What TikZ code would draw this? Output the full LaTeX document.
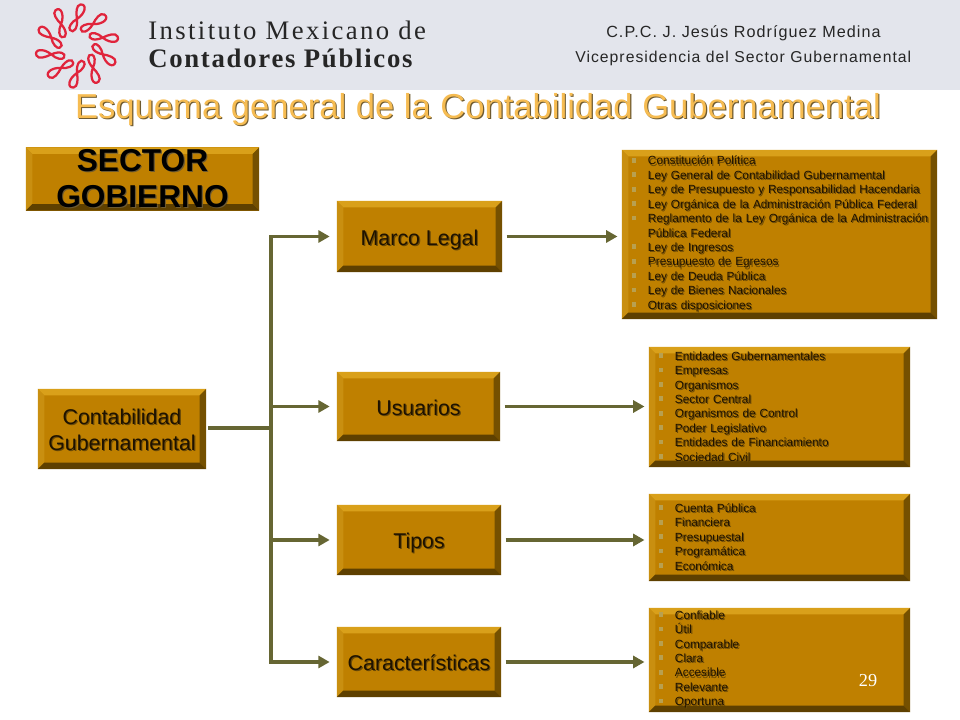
\documentclass[tikz,border=0pt]{standalone}
\usepackage{fontspec}
\setmainfont{Liberation Sans}
\newfontfamily\serifa[LetterSpace=9]{Liberation Serif}
\newfontfamily\serifb[LetterSpace=6.5]{Liberation Serif}
\newfontfamily\numfont{Liberation Serif}
\newfontfamily\cabeza[LetterSpace=6.5]{Liberation Sans}
\usetikzlibrary{arrows.meta}

\definecolor{banda}{HTML}{E3E5EC}
\definecolor{oro}{HTML}{BF8000}
\definecolor{oroalto}{HTML}{D9A01A}
\definecolor{oroizq}{HTML}{C98F10}
\definecolor{oroder}{HTML}{755000}
\definecolor{orobajo}{HTML}{5E4000}
\definecolor{olivo}{HTML}{666633}
\definecolor{titulo}{HTML}{F6BC52}
\definecolor{sombra}{HTML}{6E5A30}
\definecolor{sombrac}{HTML}{6A4A08}
\definecolor{vineta}{HTML}{B8A050}
\definecolor{tinta}{HTML}{1E1200}
\definecolor{rojo}{HTML}{E0243C}

\newcommand{\sombreado}[2]{\leavevmode\rlap{\kern0.8pt\raisebox{-0.8pt}{\textcolor{#1}{#2}}}#2}
\newcommand{\rotulo}[1]{\raisebox{-1.5pt}[0.8em][0.2em]{\sombreado{sombrac}{#1}}}
\newcommand{\ele}[1]{\makebox[0.51cm][l]{\kern3.1pt\textcolor{vineta}{\rule[1.6pt]{3pt}{3.4pt}}}\sombreado{sombrac}{#1}}
\newcommand{\hue}{\hspace*{0.51cm}}

\tikzset{
    bisel/.style={
        fill=oro, inner sep=0pt, align=center,
        path picture={
            \fill[oroalto] (path picture bounding box.north west) -- (path picture bounding box.north east)
                -- ([shift={(-0.16cm,-0.16cm)}]path picture bounding box.north east)
                -- ([shift={(0.16cm,-0.16cm)}]path picture bounding box.north west) -- cycle;
            \fill[oroizq] (path picture bounding box.north west) -- (path picture bounding box.south west)
                -- ([shift={(0.16cm,0.16cm)}]path picture bounding box.south west)
                -- ([shift={(0.16cm,-0.16cm)}]path picture bounding box.north west) -- cycle;
            \fill[oroder] (path picture bounding box.north east) -- (path picture bounding box.south east)
                -- ([shift={(-0.16cm,0.16cm)}]path picture bounding box.south east)
                -- ([shift={(-0.16cm,-0.16cm)}]path picture bounding box.north east) -- cycle;
            \fill[orobajo] (path picture bounding box.south west) -- (path picture bounding box.south east)
                -- ([shift={(-0.16cm,0.16cm)}]path picture bounding box.south east)
                -- ([shift={(0.16cm,0.16cm)}]path picture bounding box.south west) -- cycle;
        }},
    caja/.style={bisel, text=tinta, font=\fontsize{15.2}{18.5}\selectfont},
    lista/.style={bisel, align=left, text=tinta, inner xsep=0.14cm, font=\fontsize{8.4}{10.25}\selectfont},
    flecha/.style={-{Triangle[length=8pt,width=8.5pt]}, olivo, line width=2.8pt},
    linea/.style={olivo, line width=2.8pt}
}

\begin{document}
\begin{tikzpicture}[x=0.025cm, y=-0.025cm]
        \useasboundingbox (0,0) rectangle (960,720);

        % === Encabezado ===
        \fill[banda] (0,0) rectangle (960,90);

        % Logo
        \foreach \a in {0,36,...,324} {
            \draw[rojo, line width=1.6pt, shift={(77,46)}, rotate=\a]
                (0,-27) .. controls (-1,-33) and (-1,-41) .. (3.5,-41.5)
                .. controls (10,-42) and (9,-33) .. (0,-27)
                .. controls (-6,-24) and (-9,-18) .. (-7,-16)
                .. controls (-3.5,-12) and (1,-18) .. (0,-27);
        }

        \node[anchor=west, inner sep=0pt, font=\serifa\fontsize{19}{22}\selectfont, text=black!85] (inst) at (148,30) {Instituto Mexicano de};
        \node[anchor=west, inner sep=0pt, font=\serifb\bfseries\fontsize{19}{22}\selectfont, text=black!85] (cont) at (148,58) {Contadores Públicos};
        \node[anchor=west, inner sep=0pt, font=\cabeza\fontsize{11.5}{13}\selectfont, text=black!85] (cpc) at (606,33) {C.P.C. J. Jesús Rodríguez Medina};
        \node[anchor=west, inner sep=0pt, font=\cabeza\fontsize{11.2}{13}\selectfont, text=black!85] (vice) at (575,58) {Vicepresidencia del Sector Gubernamental};

        % Titulo
        \node[inner sep=0pt, text=titulo, font=\fontsize{24.6}{28}\selectfont] (esquema) at (478,110) {\sombreado{sombra}{Esquema general de la Contabilidad Gubernamental}};

        % === Cajas ===
        \node[caja, minimum width=5.825cm, minimum height=1.575cm, text=black, font=\bfseries\fontsize{22.5}{25.5}\selectfont] (sector) at (142.5,179) {\sombreado{sombra}{SECTOR}\\\sombreado{sombra}{GOBIERNO}};
        \node[caja, minimum width=4.2cm, minimum height=2cm] (contab) at (122,429) {\rotulo{Contabilidad}\\\rotulo{Gubernamental}};

        \node[caja, minimum width=4.125cm, minimum height=1.775cm] (marco) at (419.5,236.5) {\rotulo{Marco Legal}};
        \node[caja, minimum width=4.075cm, minimum height=1.725cm] (usuarios) at (418.5,406.5) {\rotulo{Usuarios}};
        \node[caja, minimum width=4.1cm, minimum height=1.75cm] (tipos) at (419,540) {\rotulo{Tipos}};
        \node[caja, minimum width=4.1cm, minimum height=1.75cm] (caract) at (419,662) {\rotulo{Características}};

        % Listas
        \node[lista, text width=7.595cm, minimum height=4.225cm] (legal) at (779.5,234.5) {%
            \ele{Constitución Política}\\
            \ele{Ley General de Contabilidad Gubernamental}\\
            \ele{Ley de Presupuesto y Responsabilidad Hacendaria}\\
            \ele{Ley Orgánica de la Administración Pública Federal}\\
            \ele{Reglamento de la Ley Orgánica de la Administración}\\
            \hue\sombreado{sombrac}{Pública Federal}\\
            \ele{Ley de Ingresos}\\
            \ele{Presupuesto de Egresos}\\
            \ele{Ley de Deuda Pública}\\
            \ele{Ley de Bienes Nacionales}\\
            \ele{Otras disposiciones}};
        \node[lista, text width=6.245cm, minimum height=3cm] (entes) at (779.5,407) {%
            \ele{Entidades Gubernamentales}\\
            \ele{Empresas}\\
            \ele{Organismos}\\
            \ele{Sector Central}\\
            \ele{Organismos de Control}\\
            \ele{Poder Legislativo}\\
            \ele{Entidades de Financiamiento}\\
            \ele{Sociedad Civil}};
        \node[lista, text width=6.245cm, minimum height=2.175cm] (cuentas) at (779.5,537.5) {%
            \ele{Cuenta Pública}\\
            \ele{Financiera}\\
            \ele{Presupuestal}\\
            \ele{Programática}\\
            \ele{Económica}};
        \node[lista, text width=6.245cm, minimum height=2.6cm] (cualidades) at (779.5,660) {%
            \ele{Confiable}\\
            \ele{Útil}\\
            \ele{Comparable}\\
            \ele{Clara}\\
            \ele{Accesible}\\
            \ele{Relevante}\\
            \ele{Oportuna}};

        \node[inner sep=0pt, text=white, font=\numfont\fontsize{13}{14}\selectfont] (pagina) at (868,681) {29};

        % === Conexiones ===
        \coordinate (tronco) at (271,428);

        \draw[linea, shorten <=1.5pt] (contab.east |- tronco) -- (tronco);
        \draw[flecha, shorten >=5pt] (tronco) |- (marco.west);
        \draw[flecha, shorten >=5pt] (tronco) |- (usuarios.west);
        \draw[flecha, shorten >=5pt] (tronco) |- (tipos.west);
        \draw[flecha, shorten >=5pt] (tronco) |- (caract.west);

        \draw[flecha, shorten <=3pt, shorten >=3pt] (marco.east) -- (marco.east -| legal.west);
        \draw[flecha, shorten <=3pt, shorten >=3pt] (usuarios.east) -- (usuarios.east -| entes.west);
        \draw[flecha, shorten <=3pt, shorten >=3pt] (tipos.east) -- (tipos.east -| cuentas.west);
        \draw[flecha, shorten <=3pt, shorten >=3pt] (caract.east) -- (caract.east -| cualidades.west);

    \end{tikzpicture}
\end{document}
